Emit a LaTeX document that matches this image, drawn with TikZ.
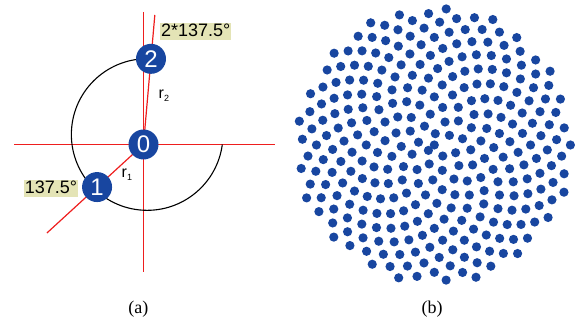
\documentclass[tikz,border=0pt]{standalone}
\usepackage{fontspec}
\setmainfont{Liberation Serif}
\setsansfont{Liberation Sans}
\usetikzlibrary{positioning, backgrounds}
\definecolor{seedblue}{RGB}{24,70,160}
\definecolor{khaki}{RGB}{228,228,182}
\definecolor{rayred}{RGB}{238,30,30}

\begin{document}
\begin{tikzpicture}[x=1pt, y=1pt,
  seed/.style={circle, fill=seedblue, text=white, minimum size=30pt, inner sep=0pt,
               font=\sffamily\fontsize{24}{24}\selectfont},
  anglebox/.style={fill=khaki, inner xsep=1pt, inner ysep=0pt, text height=13.5pt,
                   text depth=3.8pt, font=\sffamily\fontsize{18}{18}\selectfont},
  rlabel/.style={font=\sffamily\fontsize{16}{16}\selectfont, inner sep=0pt},
  ray/.style={draw=rayred, line width=1.2pt},
  caption/.style={font=\fontsize{18}{18}\selectfont}]
  \useasboundingbox (0,0) rectangle (575,320);

  % (a): first seeds of the spiral
  \node[seed] (n0) at (143.5,175.5) {0};
  \node[seed] (n1) at ([shift={(222.5:63)}]n0.center) {1};
  \node[seed] (n2) at ([shift={(85:86)}]n0.center) {2};
  \node[anglebox, anchor=east] (lab1) at (78.3,131.7) {137.5°};
  \node[anglebox, anchor=west] (lab2) at (160,288.7) {2*137.5°};
  \node[rlabel, anchor=base west] (r2) at (158.5,221.7) {r\raisebox{-3.5pt}{\fontsize{9}{9}\selectfont 2}};
  \node[rlabel, anchor=base west] (r1) at (121.5,142.7) {r\raisebox{-3.5pt}{\fontsize{9}{9}\selectfont 1}};

  \coordinate (hl) at (14,175.5);
  \coordinate (hr) at (275,175.5);
  \coordinate (vt) at (143.5,308);
  \coordinate (vb) at (143.5,48);
  \path (n0.center) ++(222.5:131) coordinate (ray1);
  \path (n0.center) ++(85:130) coordinate (ray2);

  \begin{scope}[on background layer]
    \draw[ray] (hl) -- (hr);
    \draw[ray] (vt) -- (vb);
    \draw[ray] (n0.center) -- (ray1);
    \draw[ray] (n0.center) -- (ray2);
    \draw[black, line width=1.1pt] (n2.center) arc[start angle=87.1, end angle=352.4, radius=75.8];
  \end{scope}

  % (b): 300 seeds, r = c*sqrt(n), step -137.5 deg
  \coordinate (sun) at (434.3,175);
  \foreach \n in {0,...,299}{
    \pgfmathsetmacro\ang{-mod(180*floor(\n/72)+137.5*mod(\n,72),360)}
    \fill[seedblue] (sun) ++(\ang:{8.02*sqrt(\n)}) circle (4.6pt);
  }

  \node[caption] (capa) at (138.3,11) {(a)};
  \node[caption] (capb) at (432,11) {(b)};
\end{tikzpicture}
\end{document}
